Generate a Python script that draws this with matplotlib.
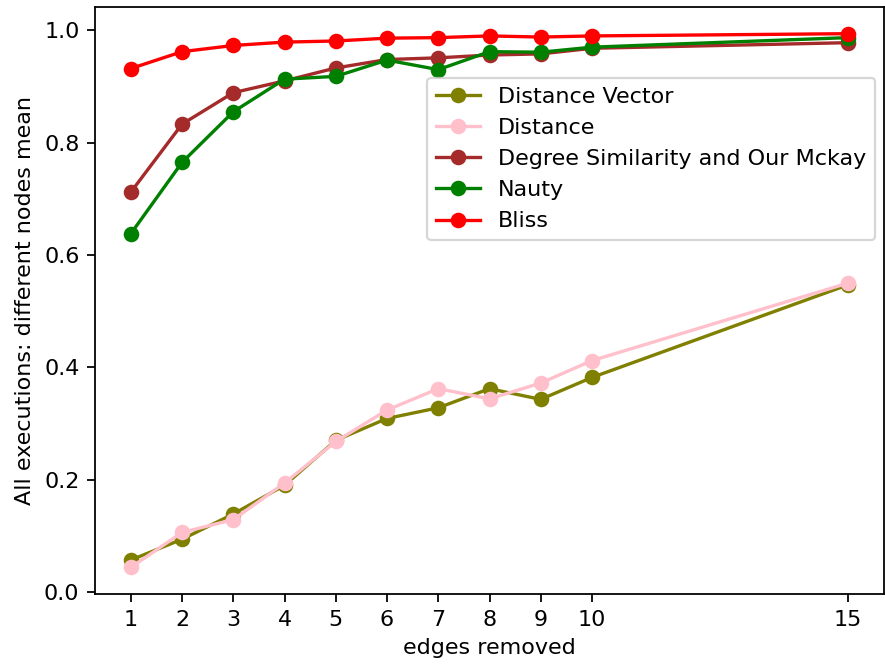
import matplotlib
matplotlib.use("Agg")
import matplotlib.pyplot as plt

edges = [1, 2, 3, 4, 5, 6, 7, 8, 9, 10, 15]

dist_vector = [0.057, 0.094, 0.139, 0.190, 0.270, 0.309, 0.328, 0.362, 0.343, 0.382, 0.547]
distance = [0.044, 0.106, 0.129, 0.194, 0.268, 0.324, 0.362, 0.344, 0.372, 0.412, 0.550]
degree_mckay = [0.712, 0.833, 0.889, 0.910, 0.933, 0.948, 0.951, 0.956, 0.958, 0.968, 0.978]
nauty = [0.638, 0.765, 0.855, 0.913, 0.918, 0.947, 0.930, 0.962, 0.961, 0.970, 0.987]
bliss = [0.932, 0.962, 0.973, 0.979, 0.981, 0.986, 0.987, 0.990, 0.988, 0.990, 0.994]

dpi = 160
fig = plt.figure(figsize=(885 / dpi, 671 / dpi), dpi=dpi)
ax = fig.add_axes([95 / 885, 77 / 671, 789 / 885, 587 / 671])

ax.plot(edges, dist_vector, marker='o', color='olive', label='Distance Vector')
ax.plot(edges, distance, marker='o', color='pink', label='Distance')
ax.plot(edges, degree_mckay, marker='o', color='brown', label='Degree Similarity and Our Mckay')
ax.plot(edges, nauty, marker='o', color='green', label='Nauty')
ax.plot(edges, bliss, marker='o', color='red', label='Bliss')

ax.set_xticks(edges)
ax.set_xlabel('edges removed')
ax.set_ylabel('All executions: different nodes mean')
ax.legend(loc='upper right', bbox_to_anchor=(0.989, 0.879), borderaxespad=0)

fig.savefig('out.png', dpi=dpi)
